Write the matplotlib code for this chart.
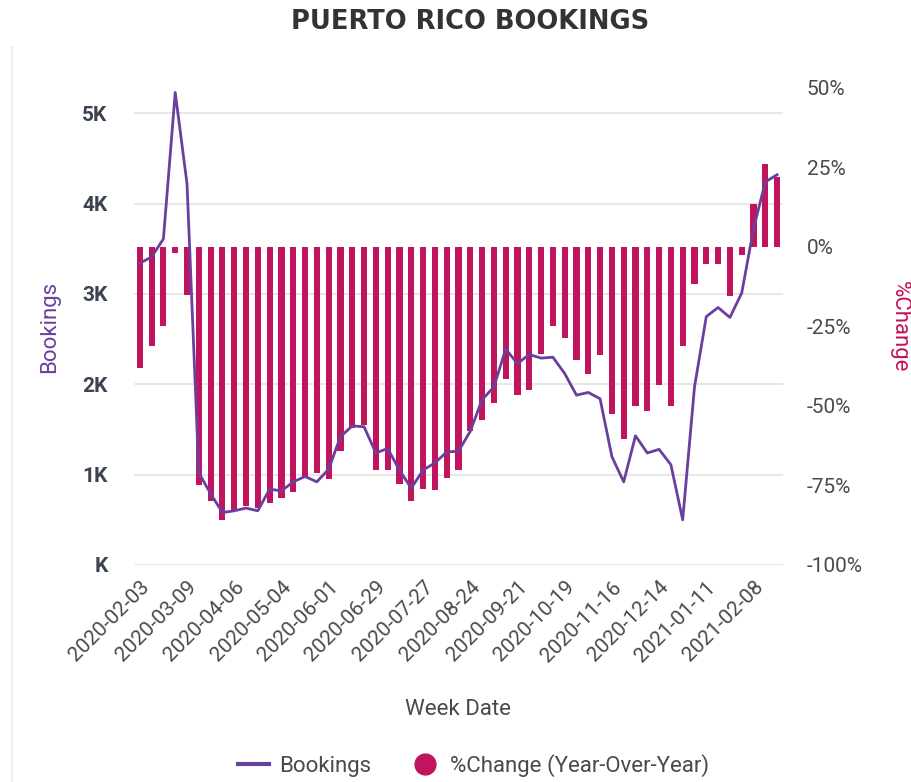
import matplotlib
matplotlib.use("Agg")
import matplotlib.pyplot as plt
from matplotlib.lines import Line2D
from matplotlib.ticker import FuncFormatter
import pandas as pd

plt.rcParams['font.family'] = ['Roboto', 'DejaVu Sans']

# Week dates (one week missing early on, as in the source data)
weeks = (['2020-02-03', '2020-02-10', '2020-02-17', '2020-02-24'] +
         [d.strftime('%Y-%m-%d') for d in pd.date_range('2020-03-09', '2021-02-22', freq='7D')])

# Weekly bookings
bookings = [3340, 3410, 3610, 5230, 4220, 1020, 790, 580, 600, 630,
            600, 840, 820, 920, 980, 920, 1060, 1420, 1540, 1530,
            1240, 1290, 1050, 850, 1050, 1130, 1250, 1260, 1480, 1830,
            1970, 2390, 2230, 2330, 2290, 2300, 2120, 1880, 1910, 1840,
            1200, 920, 1430, 1240, 1280, 1110, 500, 1970, 2750, 2850,
            2740, 3010, 3720, 4240, 4320]

# Year-over-year % change
pct_change = [-38, -31, -25, -2, -15, -75, -80, -86, -83, -81.5,
              -82, -80.5, -79, -77, -72.5, -71, -73, -64, -57, -56,
              -70, -70, -74.5, -80, -76, -76.5, -72.5, -70, -58, -54.5,
              -49, -41.5, -46.5, -45, -33.5, -25, -28.5, -35.5, -40, -34,
              -52.5, -60.5, -50, -51.5, -43.5, -50, -31, -11.5, -5.5, -5.5,
              -15.5, -2.5, 13.5, 26, 22]

line_color = '#6A3F9E'
bar_color = '#C0145E'
text_color = '#4A4A4A'

fig = plt.figure(figsize=(9.11, 7.82), dpi=100)
ax = fig.add_axes([0.147, 0.2775, 0.7125, 0.61])
ax2 = ax.twinx()

x = list(range(len(weeks)))

# gridlines on the left axis stay under the bars; the line is drawn
# in the top axes but with the left axis' data transform
ax2.bar(x, pct_change, width=0.52, color=bar_color, zorder=2)
ax2.plot(x, bookings, color=line_color, linewidth=2.0, zorder=3,
         transform=ax.transData)

ax.set_xlim(-0.5, len(weeks) - 0.5)
ax.set_ylim(0, 5280)
ax2.set_ylim(-100, 50)

ax.set_yticks([0, 1000, 2000, 3000, 4000, 5000])
ax.yaxis.set_major_formatter(FuncFormatter(lambda v, p: f"{int(v / 1000)}K" if v else "K"))
ax2.set_yticks([-100, -75, -50, -25, 0, 25, 50])
ax2.yaxis.set_major_formatter(FuncFormatter(lambda v, p: f"{int(v)}%"))

ax.grid(axis='y', color='#E3E3E3', linewidth=1.2, zorder=0)
ax2.grid(False)

tick_idx = x[::4]
ax.set_xticks(tick_idx)
ax.set_xticklabels([weeks[i] for i in tick_idx], rotation=45, ha='right',
                   rotation_mode='anchor', fontsize=15, color=text_color)

for a in (ax, ax2):
    for s in a.spines.values():
        s.set_visible(False)
    a.tick_params(length=0, colors=text_color, labelsize=15)
ax.tick_params(axis='x', pad=9)
ax.tick_params(axis='y', pad=19, colors='#3D4451')
ax2.tick_params(axis='y', pad=17)
for t in ax.get_yticklabels():
    t.set_fontweight('semibold')

ax.set_ylabel('Bookings', color=line_color, fontsize=16, labelpad=16)
ax2.set_ylabel('%Change', color=bar_color, fontsize=16, rotation=270, labelpad=34)
ax.set_xlabel('Week Date', color=text_color, fontsize=16, labelpad=24)

fig.text(0.516, 0.972, 'PUERTO RICO BOOKINGS', ha='center', va='center',
         fontsize=18.5, fontweight='bold', color='#333333', family='DejaVu Sans')

# faint card border on the left
fig.add_artist(Line2D([0.013, 0.013], [0.0, 0.94], color='#EEEEEE', linewidth=1.5,
                      transform=fig.transFigure))

handles = [Line2D([0], [0], color=line_color, linewidth=3),
           Line2D([0], [0], marker='o', linestyle='None', markersize=15,
                  markerfacecolor=bar_color, markeredgecolor=bar_color)]
fig.legend(handles, ['Bookings', '%Change (Year-Over-Year)'], loc='center',
           bbox_to_anchor=(0.52, 0.021), ncol=2, frameon=False, fontsize=16,
           labelcolor=text_color, handlelength=1.4, handletextpad=0.45,
           columnspacing=1.7)

fig.savefig('out.png', dpi=100)
